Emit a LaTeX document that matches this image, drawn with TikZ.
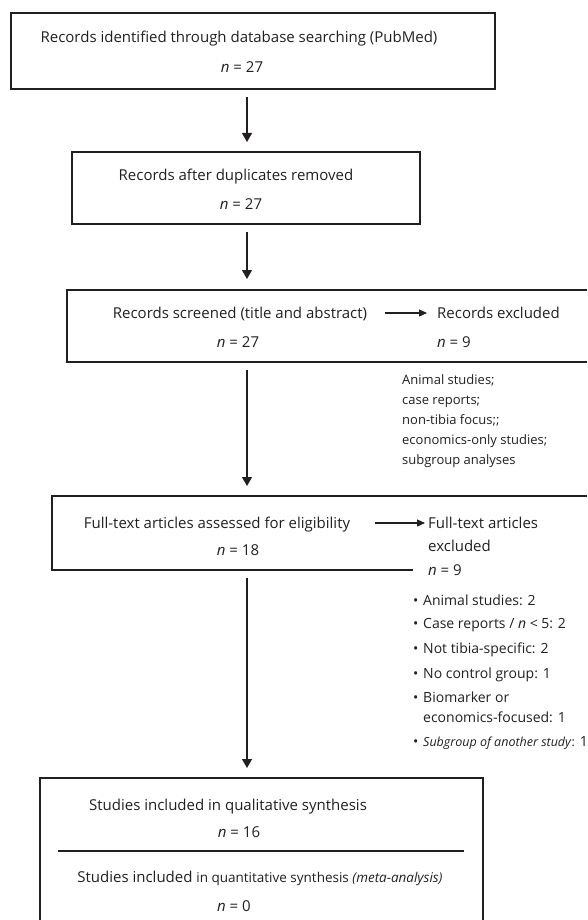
\documentclass[tikz,border=0pt]{standalone}
\usepackage{fontspec}
\setmainfont{Open Sans}
\usetikzlibrary{arrows.meta}
\definecolor{ink}{RGB}{35,31,32}
\begin{document}
\begin{tikzpicture}[x=1pt,y=-1pt,color=ink,
  txt/.style={anchor=base,inner sep=0pt,font=\fontsize{15}{17}\selectfont},
  ltxt/.style={txt,anchor=base west},
  note/.style={anchor=base west,inner sep=0pt,font=\fontsize{13}{15}\selectfont},
  item/.style={anchor=base west,inner sep=0pt,font=\fontsize{14}{16}\selectfont},
  down/.style={-{Triangle[width=10pt,length=9pt]},line width=1.2pt},
  side/.style={-{Triangle[width=7pt,length=8pt]},line width=1.2pt},
  frame/.style={line width=1.2pt}]
\useasboundingbox (0,0) rectangle (587,920);

\node[txt] (ident) at (239,43) {Records identified through database searching (PubMed)};
\node[txt] (identn) at (242,73) {\textit{n} = 27};
\draw[frame] (11,13) rectangle (495,89);

\node[txt] (dupl) at (236,180) {Records after duplicates removed};
\node[txt] (dupln) at (241,209) {\textit{n} = 27};
\draw[frame] (72,152) rectangle (420,224);

\node[txt] (scr) at (240,318) {Records screened (title and abstract)};
\node[txt] (scrn) at (238,347) {\textit{n} = 27};
\node[ltxt] (exc) at (437,318) {Records excluded};
\node[ltxt] (excn) at (437,347) {\textit{n} = 9};
\draw[frame] (587,290) -- (67,290) -- (67,362) -- (587,362);

\node[note] (r1) at (402,384) {Animal studies;};
\node[note] (r2) at (402,404) {case reports;};
\node[note] (r3) at (402,424) {non-tibia focus;;};
\node[note] (r4) at (402,444) {economics-only studies;};
\node[note] (r5) at (402,464) {subgroup analyses};

\node[txt] (full) at (217,528) {Full-text articles assessed for eligibility};
\node[txt] (fulln) at (238,555) {\textit{n} = 18};
\node[ltxt] (fexc) at (428,528) {Full-text articles};
\node[ltxt] (fexc2) at (428,551) {excluded};
\node[ltxt] (fexcn) at (428,575) {\textit{n} = 9};
\draw[frame] (587,496) -- (52,496) -- (52,570) -- (413,570);

\node[item] (b1) at (413,605) {\makebox[10pt][l]{•}Animal studies: 2};
\node[item] (b2) at (413,628) {\makebox[10pt][l]{•}Case reports / \textit{n} < 5: 2};
\node[item] (b3) at (413,653) {\makebox[10pt][l]{•}Not tibia-specific: 2};
\node[item] (b4) at (413,678) {\makebox[10pt][l]{•}No control group: 1};
\node[item] (b5) at (413,702) {\makebox[10pt][l]{•}Biomarker or};
\node[item] (b5b) at (423,722) {economics-focused: 1};
\node[item] (b6) at (413,746) {\makebox[10pt][l]{•}{\fontsize{12.5}{14}\selectfont\textit{Subgroup of another study}:} 1};

\node[txt] (qual) at (228,810) {Studies included in qualitative synthesis};
\node[txt] (qualn) at (239,837) {\textit{n} = 16};
\node[txt] (quant) at (260,882) {Studies included {\fontsize{13.5}{15}\selectfont in quantitative synthesis \textit{(meta-analysis)}}};
\node[txt] (quantn) at (234,911) {\textit{n} = 0};
\draw[frame] (40,920) -- (40,778) -- (483,778) -- (483,920);
\draw[frame] (58,851) -- (464,851);

\coordinate (d1a) at (247,97);
\coordinate (d1b) at (247,142);
\coordinate (d2a) at (247,232);
\coordinate (d2b) at (247,279);
\coordinate (d3a) at (247,370);
\coordinate (d3b) at (247,486);
\coordinate (d4a) at (247,578);
\coordinate (d4b) at (247,768);
\coordinate (s1a) at (385,313);
\coordinate (s1b) at (427,313);
\coordinate (s2a) at (375,523);
\coordinate (s2b) at (425,523);
\draw[down] (d1a) -- (d1b);
\draw[down] (d2a) -- (d2b);
\draw[down] (d3a) -- (d3b);
\draw[down] (d4a) -- (d4b);
\draw[side] (s1a) -- (s1b);
\draw[side] (s2a) -- (s2b);
\end{tikzpicture}
\end{document}
